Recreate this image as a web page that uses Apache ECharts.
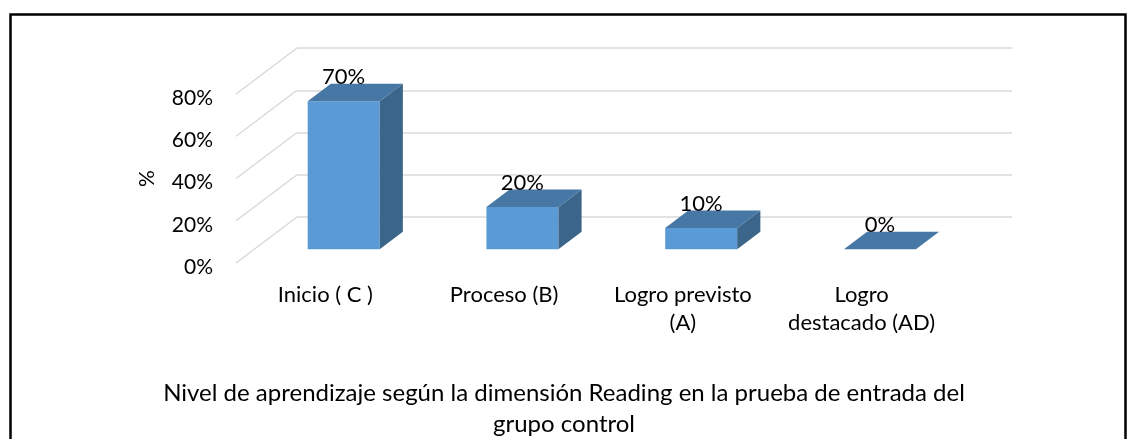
<!DOCTYPE html>
<html>
<head>
<meta charset="utf-8">
<script src="https://cdn.jsdelivr.net/npm/echarts@6/dist/echarts.min.js"></script>
<style>
  html, body { margin: 0; padding: 0; background: #fff; }
  #chart { width: 1128px; height: 439px; }
</style>
</head>
<body>
<div id="chart"></div>
<script>
// datos del gráfico
const categories = ['Inicio ( C )', 'Proceso (B)', 'Logro previsto\n(A)', 'Logro\ndestacado (AD)'];
const percents = [70, 20, 10, 0];
const tickValues = [0, 20, 40, 60, 80];
const axisName = '%';
const chartTitle = 'Nivel de aprendizaje según la dimensión Reading en la prueba de entrada del\ngrupo control';

// pseudo 3D: profundidad de la pared y posicion de las barras
const wall = [61, -46];
const barStart = 0.3;   // fraccion de profundidad donde empieza la barra
const barDepth = 0.38;  // fraccion de profundidad que ocupa la barra
const barHalf = 36;
const font = 'Lato, "Open Sans", sans-serif';

let myChart = echarts.init(document.getElementById('chart'));

myChart.setOption({
    animation: false,
    textStyle: { fontFamily: font },
    title: {
        text: chartTitle,
        left: 'center',
        top: 373,
        textStyle: { fontSize: 24, fontWeight: 'normal', color: '#000', lineHeight: 31, fontFamily: font }
    },
    grid: [
        // plano frontal
        { left: 236, top: 94, width: 715, height: 169 },
        // pared del fondo
        { left: 297, top: 48, width: 715, height: 169 }
    ],
    xAxis: [
        {
            gridIndex: 0,
            type: 'category',
            data: categories,
            axisLine: { show: false },
            axisTick: { show: false },
            axisLabel: { margin: 18, fontSize: 22, lineHeight: 28, color: '#000', fontFamily: font, interval: 0 }
        },
        {
            gridIndex: 1,
            type: 'category',
            data: categories,
            show: false
        }
    ],
    yAxis: [
        {
            gridIndex: 0,
            type: 'value',
            min: 0, max: 80, interval: 20,
            name: axisName,
            nameLocation: 'middle',
            nameRotate: 90,
            nameGap: 78,
            nameTextStyle: { fontSize: 21, color: '#000', fontFamily: font },
            axisLine: { show: false },
            axisTick: { show: false },
            splitLine: { show: false },
            axisLabel: {
                margin: 23,
                formatter: '{t|{value}%}',
                rich: { t: { fontSize: 21, color: '#000', fontFamily: font, padding: [8, 0, 0, 0] } }
            }
        },
        {
            gridIndex: 1,
            type: 'value',
            min: 0, max: 80, interval: 20,
            axisLine: { show: false },
            axisTick: { show: false },
            axisLabel: { show: false },
            splitLine: { lineStyle: { color: '#d9d9d9', width: 1.5 } }
        }
    ],
    series: [
        {
            // lineas diagonales de la pared lateral
            type: 'custom',
            xAxisIndex: 0,
            yAxisIndex: 0,
            clip: false,
            data: tickValues.map(function (v) { return [0, v]; }),
            encode: { x: 0, y: 1 },
            renderItem: function (params, api) {
                let y = api.coord([0, api.value(1)])[1];
                let x = params.coordSys.x;
                return {
                    type: 'line',
                    shape: { x1: x, y1: y, x2: x + wall[0], y2: y + wall[1] },
                    style: { stroke: '#d9d9d9', lineWidth: 1.5 }
                };
            }
        },
        {
            // barras 3D
            type: 'custom',
            xAxisIndex: 0,
            yAxisIndex: 0,
            clip: false,
            data: percents.map(function (v, i) { return [i, v]; }),
            encode: { x: 0, y: 1 },
            renderItem: function (params, api) {
                let top = api.coord([api.value(0), api.value(1)]);
                let base = api.coord([api.value(0), 0]);
                let sx = wall[0] * barStart, sy = wall[1] * barStart;
                let dx = wall[0] * barDepth, dy = wall[1] * barDepth;
                let x0 = top[0] - barHalf + sx, x1 = top[0] + barHalf + sx;
                let yb = base[1] + sy, yt = top[1] + sy;
                let children = [];
                if (yb - yt > 0.5) {
                    children.push({
                        type: 'rect',
                        shape: { x: x0, y: yt, width: x1 - x0, height: yb - yt },
                        style: { fill: '#5b9bd5' }
                    });
                    children.push({
                        type: 'polygon',
                        shape: { points: [[x1, yb], [x1, yt], [x1 + dx, yt + dy], [x1 + dx, yb + dy]] },
                        style: { fill: '#3b6589' }
                    });
                }
                children.push({
                    type: 'polygon',
                    shape: { points: [[x0, yt], [x1, yt], [x1 + dx, yt + dy], [x0 + dx, yt + dy]] },
                    style: { fill: '#4677a5' }
                });
                children.push({
                    type: 'text',
                    style: {
                        text: api.value(1) + '%',
                        x: top[0] + sx,
                        y: yt - 24,
                        align: 'center',
                        verticalAlign: 'middle',
                        fill: '#000',
                        font: '22px ' + font
                    }
                });
                return { type: 'group', children: children };
            }
        }
    ],
    graphic: [
        {
            type: 'rect',
            z: 100,
            shape: { x: 10.5, y: 14.5, width: 1115, height: 440 },
            style: { fill: 'none', stroke: '#000', lineWidth: 2.5 }
        }
    ]
});
</script>
</body>
</html>
